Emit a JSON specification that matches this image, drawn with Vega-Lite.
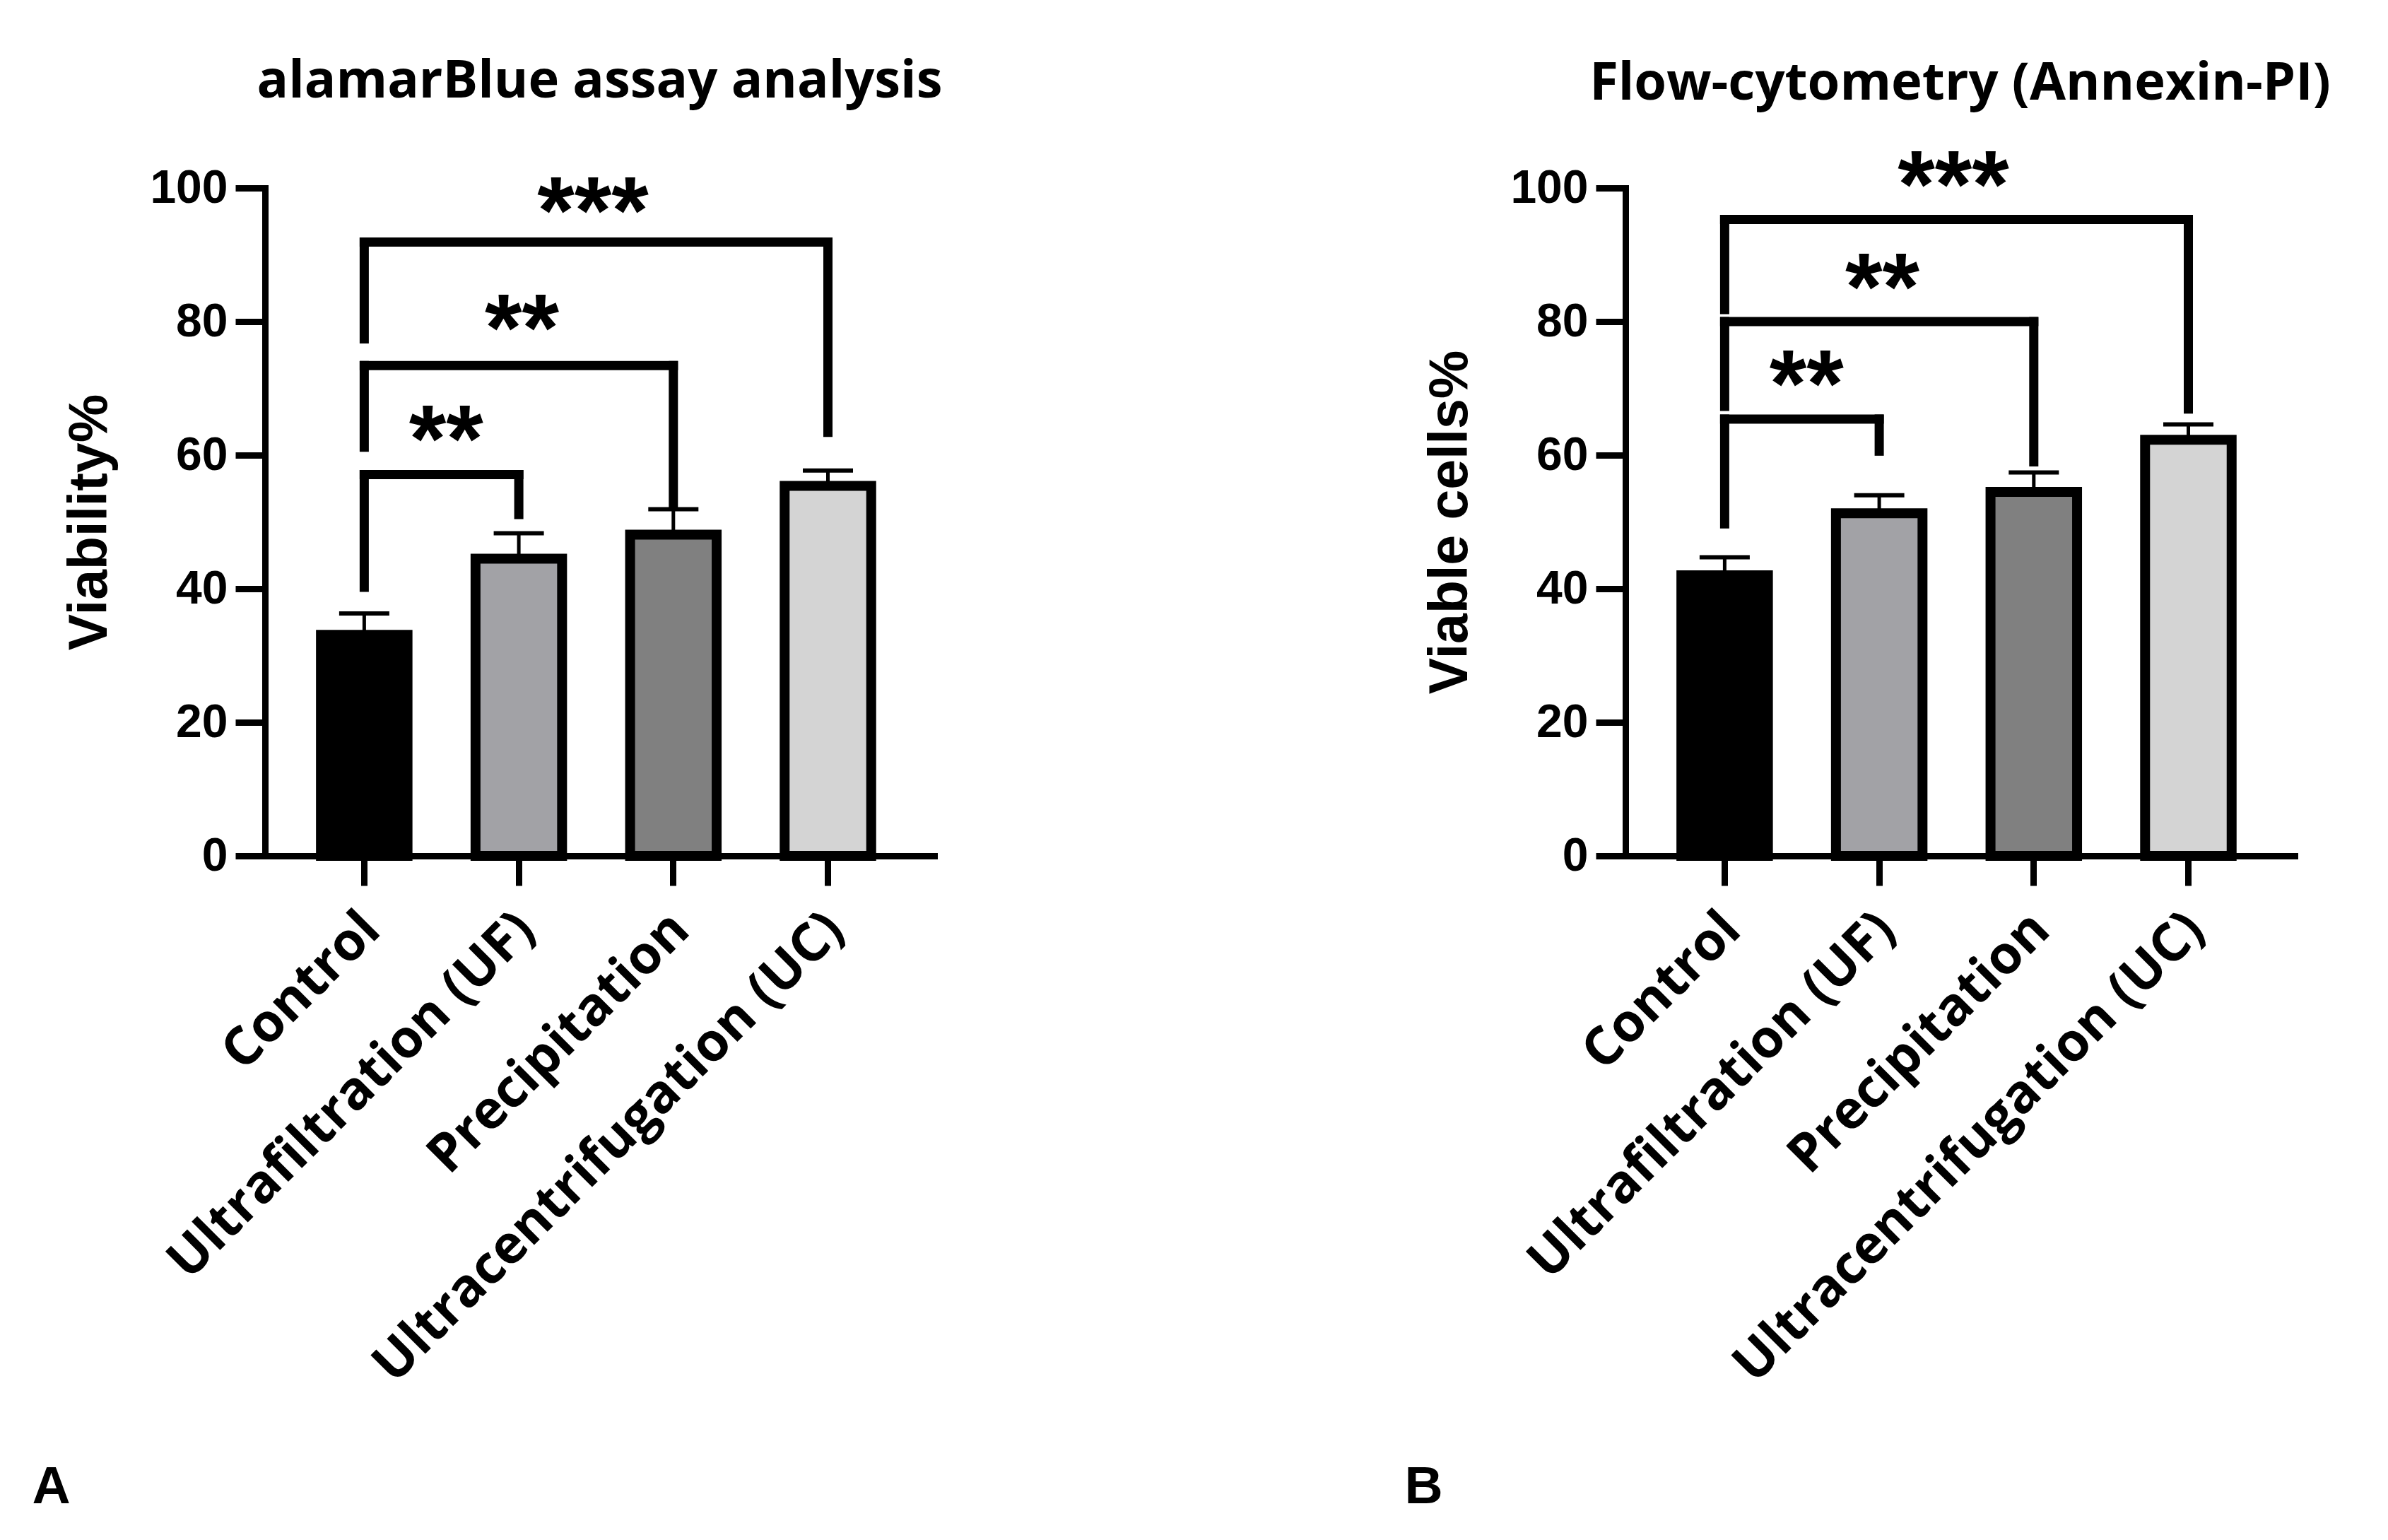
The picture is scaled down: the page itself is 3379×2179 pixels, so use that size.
{
  "$schema": "https://vega.github.io/schema/vega-lite/v6.json",
  "background": "white",
  "padding": {"left": 45, "top": 79, "right": 5, "bottom": 5},
  "spacing": 653,
  "datasets": {
    "bars_A": [
      {"group": "Control", "value": 33.1, "err": 36.3},
      {"group": "Ultrafiltration (UF)", "value": 44.5, "err": 48.3},
      {"group": "Precipitation", "value": 48.1, "err": 51.9},
      {"group": "Ultracentrifugation (UC)", "value": 55.4, "err": 57.7}
    ],
    "bars_B": [
      {"group": "Control", "value": 42.0, "err": 44.7},
      {"group": "Ultrafiltration (UF)", "value": 51.3, "err": 54.0},
      {"group": "Precipitation", "value": 54.5, "err": 57.4},
      {"group": "Ultracentrifugation (UC)", "value": 62.3, "err": 64.6}
    ],
    "brk_A": [
      {"g1": "Control", "g2": "Ultrafiltration (UF)", "top": 57.1, "bot1": 40.2, "bot2": 51.1, "stars": "**", "starX": 0.53, "starY": 63.8},
      {"g1": "Control", "g2": "Precipitation", "top": 73.4, "bot1": 61.2, "bot2": 52.8, "stars": "**", "starX": 1.02, "starY": 80.4},
      {"g1": "Control", "g2": "Ultracentrifugation (UC)", "top": 91.9, "bot1": 77.4, "bot2": 63.4, "stars": "***", "starX": 1.48, "starY": 98.0}
    ],
    "brk_B": [
      {"g1": "Control", "g2": "Ultrafiltration (UF)", "top": 65.4, "bot1": 49.7, "bot2": 60.6, "stars": "**", "starX": 0.53, "starY": 72.1},
      {"g1": "Control", "g2": "Precipitation", "top": 80.0, "bot1": 67.3, "bot2": 59.0, "stars": "**", "starX": 1.02, "starY": 86.6},
      {"g1": "Control", "g2": "Ultracentrifugation (UC)", "top": 95.3, "bot1": 81.8, "bot2": 66.9, "stars": "***", "starX": 1.48, "starY": 101.9}
    ]
  },
  "hconcat": [
    {
      "width": 947,
      "height": 945,
      "title": {"text": "alamarBlue assay analysis", "offset": 79},
      "layer": [
        {
          "layer": [
            {
              "data": {"name": "bars_A"},
              "mark": {"type": "bar", "stroke": "black", "strokeWidth": 14},
              "encoding": {
                "x": {"field": "group", "type": "nominal", "sort": null,
                  "scale": {"domain": ["Control", "Ultrafiltration (UF)", "Precipitation", "Ultracentrifugation (UC)"], "paddingInner": 0.44, "paddingOuter": 0.385, "align": 0.47},
                  "axis": {"title": "A", "titleX": -330, "titleY": 915, "titleAlign": "left", "titleBaseline": "alphabetic"}},
                "y": {"field": "value", "type": "quantitative", "scale": {"domain": [0, 100], "nice": false},
                  "axis": {"values": [0, 20, 40, 60, 80, 100], "title": "Viability%"}},
                "color": {"field": "group", "type": "nominal",
                  "scale": {"domain": ["Control", "Ultrafiltration (UF)", "Precipitation", "Ultracentrifugation (UC)"], "range": ["#000000", "#a2a2a6", "#808080", "#d4d4d4"]},
                  "legend": null}
              }
            },
            {
              "data": {"name": "bars_A"},
              "mark": {"type": "rule", "strokeWidth": 5, "color": "black"},
              "encoding": {
                "x": {"field": "group", "type": "nominal"},
                "y": {"field": "value", "type": "quantitative"},
                "y2": {"field": "err"}
              }
            },
            {
              "data": {"name": "bars_A"},
              "mark": {"type": "tick", "thickness": 6, "size": 71, "color": "black", "opacity": 1},
              "encoding": {
                "x": {"field": "group", "type": "nominal"},
                "y": {"field": "err", "type": "quantitative"}
              }
            },
            {
              "data": {"name": "brk_A"},
              "mark": {"type": "rule", "strokeWidth": 13, "strokeCap": "square", "color": "black"},
              "encoding": {
                "x": {"field": "g1", "type": "nominal"},
                "x2": {"field": "g2"},
                "y": {"field": "top", "type": "quantitative"}
              }
            },
            {
              "data": {"name": "brk_A"},
              "mark": {"type": "rule", "strokeWidth": 13, "strokeCap": "square", "color": "black"},
              "encoding": {
                "x": {"field": "g1", "type": "nominal"},
                "y": {"field": "top", "type": "quantitative"},
                "y2": {"field": "bot1"}
              }
            },
            {
              "data": {"name": "brk_A"},
              "mark": {"type": "rule", "strokeWidth": 13, "strokeCap": "square", "color": "black"},
              "encoding": {
                "x": {"field": "g2", "type": "nominal"},
                "y": {"field": "top", "type": "quantitative"},
                "y2": {"field": "bot2"}
              }
            }
          ]
        },
        {
          "data": {"name": "brk_A"},
          "mark": {"type": "text", "font": "Liberation Sans", "fontWeight": "bold", "fontSize": 135, "align": "center", "baseline": "middle", "dy": 18, "color": "black"},
          "encoding": {
            "x": {"field": "starX", "type": "quantitative", "scale": {"domain": [-0.642, 3.688], "nice": false, "zero": false}, "axis": null},
            "y": {"field": "starY", "type": "quantitative"},
            "text": {"field": "stars"}
          }
        }
      ],
      "resolve": {"scale": {"x": "independent"}}
    },
    {
      "width": 947,
      "height": 945,
      "title": {"text": "Flow-cytometry (Annexin-PI)", "offset": 42.5},
      "layer": [
        {
          "layer": [
            {
              "data": {"name": "bars_B"},
              "mark": {"type": "bar", "stroke": "black", "strokeWidth": 14},
              "encoding": {
                "x": {"field": "group", "type": "nominal", "sort": null,
                  "scale": {"domain": ["Control", "Ultrafiltration (UF)", "Precipitation", "Ultracentrifugation (UC)"], "paddingInner": 0.44, "paddingOuter": 0.385, "align": 0.47},
                  "axis": {"title": "B", "titleX": -313, "titleY": 915, "titleAlign": "left", "titleBaseline": "alphabetic"}},
                "y": {"field": "value", "type": "quantitative", "scale": {"domain": [0, 100], "nice": false},
                  "axis": {"values": [0, 20, 40, 60, 80, 100], "title": "Viable cells%"}},
                "color": {"field": "group", "type": "nominal",
                  "scale": {"domain": ["Control", "Ultrafiltration (UF)", "Precipitation", "Ultracentrifugation (UC)"], "range": ["#000000", "#a2a2a6", "#808080", "#d4d4d4"]},
                  "legend": null}
              }
            },
            {
              "data": {"name": "bars_B"},
              "mark": {"type": "rule", "strokeWidth": 5, "color": "black"},
              "encoding": {
                "x": {"field": "group", "type": "nominal"},
                "y": {"field": "value", "type": "quantitative"},
                "y2": {"field": "err"}
              }
            },
            {
              "data": {"name": "bars_B"},
              "mark": {"type": "tick", "thickness": 6, "size": 71, "color": "black", "opacity": 1},
              "encoding": {
                "x": {"field": "group", "type": "nominal"},
                "y": {"field": "err", "type": "quantitative"}
              }
            },
            {
              "data": {"name": "brk_B"},
              "mark": {"type": "rule", "strokeWidth": 13, "strokeCap": "square", "color": "black"},
              "encoding": {
                "x": {"field": "g1", "type": "nominal"},
                "x2": {"field": "g2"},
                "y": {"field": "top", "type": "quantitative"}
              }
            },
            {
              "data": {"name": "brk_B"},
              "mark": {"type": "rule", "strokeWidth": 13, "strokeCap": "square", "color": "black"},
              "encoding": {
                "x": {"field": "g1", "type": "nominal"},
                "y": {"field": "top", "type": "quantitative"},
                "y2": {"field": "bot1"}
              }
            },
            {
              "data": {"name": "brk_B"},
              "mark": {"type": "rule", "strokeWidth": 13, "strokeCap": "square", "color": "black"},
              "encoding": {
                "x": {"field": "g2", "type": "nominal"},
                "y": {"field": "top", "type": "quantitative"},
                "y2": {"field": "bot2"}
              }
            }
          ]
        },
        {
          "data": {"name": "brk_B"},
          "mark": {"type": "text", "font": "Liberation Sans", "fontWeight": "bold", "fontSize": 135, "align": "center", "baseline": "middle", "dy": 18, "color": "black"},
          "encoding": {
            "x": {"field": "starX", "type": "quantitative", "scale": {"domain": [-0.642, 3.688], "nice": false, "zero": false}, "axis": null},
            "y": {"field": "starY", "type": "quantitative"},
            "text": {"field": "stars"}
          }
        }
      ],
      "resolve": {"scale": {"x": "independent"}}
    }
  ],
  "config": {
    "view": {"stroke": null},
    "axis": {"domainColor": "black", "domainWidth": 9, "domainCap": "square", "tickColor": "black", "tickWidth": 9, "tickSize": 42, "grid": false, "labelColor": "black", "titleColor": "black"},
    "axisY": {"labelFont": "Liberation Sans", "labelFontWeight": "bold", "labelFontSize": 66, "labelPadding": 11, "titleFont": "Liberation Sans", "titleFontWeight": "bold", "titleFontSize": 77, "titlePadding": 45},
    "axisX": {"labelFont": "Open Sans", "labelFontWeight": "bold", "labelFontSize": 75, "labelLimit": 0, "labelAngle": -45, "labelAlign": "right", "labelBaseline": "middle", "labelPadding": 50, "labelOffset": 10, "titleFont": "Liberation Sans", "titleFontWeight": "bold", "titleFontSize": 75},
    "title": {"font": "Open Sans", "fontWeight": "bold", "fontSize": 74, "color": "black", "anchor": "middle", "frame": "group", "baseline": "alphabetic"}
  }
}
